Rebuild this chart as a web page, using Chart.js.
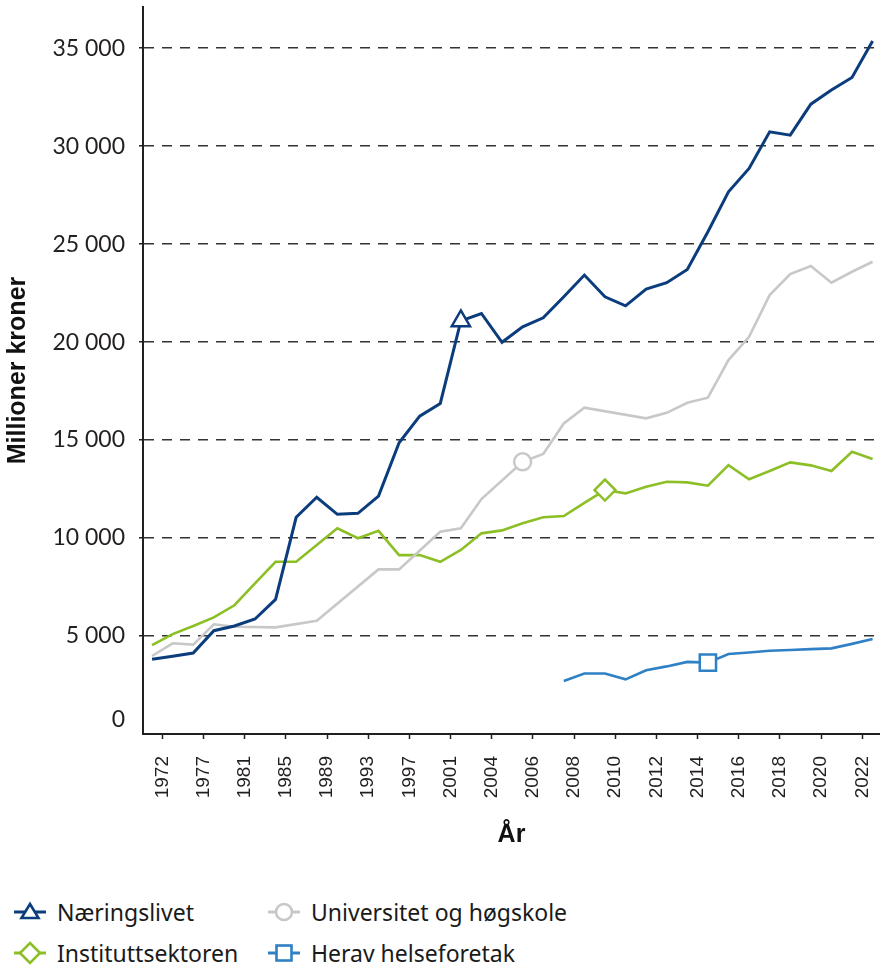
<!DOCTYPE html>
<html><head><meta charset="utf-8">
<script src="https://cdn.jsdelivr.net/npm/chart.js@4"></script>
<style>
html,body{margin:0;padding:0;background:#fff;}
#wrap{position:relative;width:880px;height:967px;overflow:hidden;}
#c{position:absolute;left:0;top:0;}
.item{position:absolute;display:flex;align-items:center;height:40px;font-family:"Noto Sans",sans-serif;font-size:23px;color:#1a1a1a;white-space:nowrap;}
.item svg{margin-right:11px;flex:none;}
</style></head><body>
<div id="wrap"><canvas id="c" width="880" height="880"></canvas><div id="legend"></div></div>
<script>
// ---- data ----
const tickLabels = ['1972','1977','1981','1985','1989','1993','1997','2001','2004','2006','2008','2010','2012','2014','2016','2018','2020','2022'];
const yTicks = [0, 5000, 10000, 15000, 20000, 25000, 30000, 35000];
const seriesNames = ['Næringslivet','Universitet og høgskole','Instituttsektoren','Herav helseforetak'];
const naeringslivet = [3810,3970,4130,5270,5510,5870,6870,11060,12080,11210,11260,12140,14860,16220,16870,21080,21460,19990,20780,21240,22310,23420,22310,21850,22700,23030,23710,25630,27670,28860,30730,30560,32140,32860,33500,35360];
const universitet = [3980,4630,4560,5600,5470,null,5440,null,5780,null,null,8400,8400,null,10320,10500,11990,null,13890,14290,15850,16650,null,null,16110,16390,16900,17160,19080,20270,22400,23470,23880,23030,23590,24100];
const institutt = [4540,5100,5510,5950,6570,7690,8790,8790,9640,10500,9990,10370,9130,9130,8790,9390,10240,10390,10750,11060,11120,11790,12450,12280,12620,12870,12840,12670,13720,13000,13420,13860,13710,13420,14400,14030];
const helseforetak = [null,null,null,null,null,null,null,null,null,null,null,null,null,null,null,null,null,null,null,null,2700,3090,3090,2790,3250,3450,3680,3640,4080,4160,4250,4290,4330,4370,4600,4850];
const markerIndex = [15, 18, 22, 27];

// ---- style ----
const colors = ['#0b3d7d', '#c8c8c8', '#8cbf26', '#2f80c4'];
const pointStyles = ['triangle', 'circle', 'rectRot', 'rect'];
const pointRadii = [10.5, 8.5, 10.5, 11.5];
const axisColor = '#231f20';
const fmt = v => String(v).replace(/\B(?=(\d{3})+(?!\d))/g, ' ');
const yFont = {family: 'Lato, sans-serif', size: 23};

const seriesData = [naeringslivet, universitet, institutt, helseforetak];
const datasets = seriesData.map((arr, s) => ({
  label: seriesNames[s],
  data: arr.map((v, i) => ({x: i, y: v})),
  borderColor: colors[s],
  backgroundColor: '#fff',
  borderWidth: s === 0 ? 3 : 2.6,
  tension: 0,
  spanGaps: true,
  pointStyle: pointStyles[s],
  pointRadius: ctx => ctx.dataIndex === markerIndex[s] ? pointRadii[s] : 0,
  pointHoverRadius: ctx => ctx.dataIndex === markerIndex[s] ? pointRadii[s] : 0,
  pointBackgroundColor: '#fff',
  pointBorderColor: colors[s],
  pointBorderWidth: 2.5,
  pointHoverBorderWidth: 2.5
}));

const zeroLabel = {
  id: 'zeroLabel',
  afterDraw(chart) {
    const ys = chart.scales.y, ctx = chart.ctx;
    ctx.save();
    ctx.font = yFont.size + 'px ' + yFont.family;
    ctx.fillStyle = axisColor;
    ctx.textAlign = 'right';
    ctx.textBaseline = 'middle';
    ctx.fillText(fmt(yTicks[0]), ys.right - 4 - 14, ys.getPixelForValue(yTicks[0]) - 14);
    ctx.restore();
  }
};

new Chart(document.getElementById('c'), {
  type: 'line',
  data: {datasets},
  plugins: [zeroLabel],
  options: {
    responsive: false,
    animation: false,
    events: [],
    layout: {padding: {top: 7, right: 0, left: 0, bottom: 30}},
    plugins: {legend: {display: false}, tooltip: {enabled: false}},
    scales: {
      x: {
        type: 'linear',
        min: -0.44,
        max: 35.36,
        afterBuildTicks: s => { s.ticks = tickLabels.map((_, i) => ({value: 0.5 + 2 * i})); },
        afterFit: s => { s.height = 116; s.paddingLeft = 0; s.paddingRight = 0; },
        grid: {drawOnChartArea: false, drawTicks: true, tickLength: 5, tickColor: axisColor, tickWidth: 1.5},
        border: {display: true, color: axisColor, width: 2},
        ticks: {
          autoSkip: false, minRotation: 90, maxRotation: 90, padding: 17,
          color: axisColor,
          font: {family: '"Liberation Sans", Arial, sans-serif', size: 19},
          callback: (v, i) => tickLabels[i]
        },
        title: {display: true, text: 'År', color: '#111', padding: {top: 0, bottom: 0},
          font: {family: '"Liberation Sans", Arial, sans-serif', size: 25, weight: 'bold'}}
      },
      y: {
        min: 0,
        max: 37100,
        afterBuildTicks: s => { s.ticks = yTicks.map(v => ({value: v})); },
        afterFit: s => { s.width = 143; s.paddingTop = 0; s.paddingBottom = 0; },
        grid: {
          color: c => c.tick && c.tick.value === 0 ? 'rgba(0,0,0,0)' : '#333',
          lineWidth: 1.5, drawTicks: true, tickLength: 4,
          tickColor: c => c.tick && c.tick.value === 0 ? 'rgba(0,0,0,0)' : axisColor, tickWidth: 1.5
        },
        border: {display: true, color: axisColor, width: 2, dash: [10, 8]},
        ticks: {
          padding: 14, color: axisColor,
          font: yFont,
          callback: v => v === 0 ? '' : fmt(v)
        },
        title: {display: true, text: 'Millioner kroner', color: '#111', padding: {top: 3, bottom: 0},
          font: {family: '"Liberation Sans", Arial, sans-serif', size: 25, weight: 'bold'}}
      }
    }
  }
});

// ---- legend (built from the series names / styles) ----
function iconSVG(s) {
  const c = colors[s], cx = 16, cy = 13;
  let shape = '';
  if (pointStyles[s] === 'triangle') shape = `<polygon points="${cx},${cy-8} ${cx+8.5},${cy+6} ${cx-8.5},${cy+6}" />`;
  else if (pointStyles[s] === 'circle') shape = `<circle cx="${cx}" cy="${cy}" r="8" />`;
  else if (pointStyles[s] === 'rectRot') shape = `<polygon points="${cx},${cy-10} ${cx+10},${cy} ${cx},${cy+10} ${cx-10},${cy}" />`;
  else shape = `<rect x="${cx-7.5}" y="${cy-7.5}" width="15" height="15" />`;
  return `<svg width="32" height="26" viewBox="0 0 32 26"><line x1="0" y1="${cy}" x2="32" y2="${cy}" stroke="${c}" stroke-width="3"/><g fill="#fff" stroke="${c}" stroke-width="2.6">${shape}</g></svg>`;
}
const legendPos = [[14, 912], [268, 912], [14, 953], [268, 953]];
const lg = document.getElementById('legend');
seriesNames.forEach((name, s) => {
  const d = document.createElement('div');
  d.className = 'item';
  d.style.left = legendPos[s][0] + 'px';
  d.style.top = (legendPos[s][1] - 20) + 'px';
  d.innerHTML = iconSVG(s) + '<span>' + name + '</span>';
  lg.appendChild(d);
});
</script>
</body></html>
